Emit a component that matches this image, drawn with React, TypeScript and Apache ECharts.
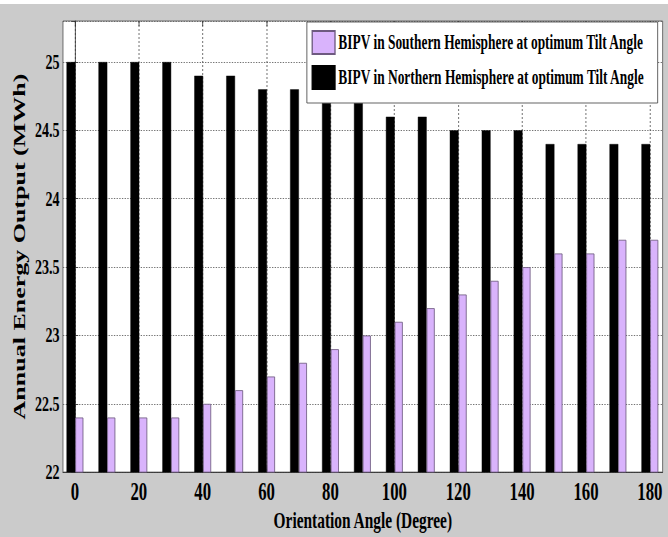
import React, { useEffect, useRef } from "react";
import * as echarts from "echarts";

const angles = [0, 10, 20, 30, 40, 50, 60, 70, 80, 90, 100, 110, 120, 130, 140, 150, 160, 170, 180];
const northern = [25, 25, 25, 25, 24.9, 24.9, 24.8, 24.8, 24.7, 24.7, 24.6, 24.6, 24.5, 24.5, 24.5, 24.4, 24.4, 24.4, 24.4];
const southern = [22.4, 22.4, 22.4, 22.4, 22.5, 22.6, 22.7, 22.8, 22.9, 23.0, 23.1, 23.2, 23.3, 23.4, 23.5, 23.6, 23.6, 23.7, 23.7];
const xTicks = [0, 20, 40, 60, 80, 100, 120, 140, 160, 180];
const southName = "BIPV in Southern Hemisphere at optimum Tilt Angle";
const northName = "BIPV in Northern Hemisphere at optimum Tilt Angle";
const xTitle = "Orientation Angle (Degree)";
const yTitle = "Annual Energy Output (MWh)";

// the reference figure is horizontally squeezed; reproduce by scaling the chart container
const S = 0.67;
const PAGE_W = 668;
const PAGE_H = 537;
const TOP = 4;
const W = PAGE_W / S;
const H = PAGE_H - TOP;
const FONT = '"Liberation Serif", "Times New Roman", serif';

export default function App() {
  const ref = useRef<HTMLDivElement | null>(null);
  useEffect(() => {
    if (!ref.current) return;
    const chart = echarts.init(ref.current, undefined, { renderer: "svg" });
    const gridLine = { show: true, lineStyle: { color: "#555", width: 1, type: [2, 2] as any } };
    chart.setOption({
      animation: false,
      backgroundColor: "#cbcbcb",
      textStyle: { fontFamily: FONT },
      grid: {
        left: 94,
        right: 8,
        top: 17,
        bottom: 62,
        show: true,
        backgroundColor: "#ffffff",
        borderColor: "#555",
        borderWidth: 1,
      },
      legend: {
        orient: "vertical",
        left: 458,
        top: 18,
        data: [southName, northName],
        itemWidth: 34,
        itemHeight: 23,
        itemGap: 10,
        padding: [8, 19, 13, 7],
        backgroundColor: "#ffffff",
        borderColor: "#444",
        borderWidth: 1,
        borderRadius: 0,
        icon: "rect",
        textStyle: { fontFamily: FONT, fontWeight: "bold", fontSize: 20, color: "#000" },
      },
      xAxis: [
        {
          type: "value",
          min: -3.75,
          max: 184,
          splitNumber: 9,
          name: xTitle,
          nameLocation: "middle",
          nameGap: 33,
          nameTextStyle: { fontFamily: FONT, fontWeight: "bold", fontSize: 23, color: "#000" },
          axisLine: { show: true, lineStyle: { color: "#333", width: 1 } },
          axisTick: { show: true, inside: true, length: 5, customValues: xTicks, lineStyle: { color: "#333" } },
          axisLabel: {
            customValues: xTicks,
            margin: 7,
            fontFamily: FONT,
            fontWeight: "bold",
            fontSize: 25,
            color: "#000",
          },
          splitLine: gridLine,
        },
        {
          type: "value",
          position: "top",
          min: -3.75,
          max: 184,
          splitNumber: 9,
          axisLine: { show: false },
          axisTick: { show: true, inside: true, length: 5, customValues: xTicks, lineStyle: { color: "#333" } },
          axisLabel: { show: false },
          splitLine: { show: false },
        },
      ],
      yAxis: [
        {
          type: "value",
          min: 22,
          max: 25.3,
          interval: 0.5,
          name: yTitle,
          nameLocation: "middle",
          nameRotate: 90,
          nameGap: 48,
          nameTextStyle: { fontFamily: FONT, fontWeight: "bold", fontSize: 26, color: "#000" },
          axisLine: { show: true, lineStyle: { color: "#333", width: 1 } },
          axisTick: { show: true, inside: true, length: 5, lineStyle: { color: "#333" } },
          axisLabel: {
            showMaxLabel: false,
            margin: 5,
            fontFamily: FONT,
            fontWeight: "bold",
            fontSize: 21,
            color: "#000",
          },
          splitLine: gridLine,
        },
        {
          type: "value",
          position: "right",
          min: 22,
          max: 25.3,
          interval: 0.5,
          axisLine: { show: false },
          axisTick: { show: true, inside: true, length: 5, lineStyle: { color: "#333" } },
          axisLabel: { show: false },
          splitLine: { show: false },
        },
      ],
      series: [
        {
          name: northName,
          type: "bar",
          xAxisIndex: 0,
          yAxisIndex: 0,
          barWidth: 13,
          barGap: "0%",
          itemStyle: { color: "#000000", borderColor: "#000000", borderWidth: 0.5 },
          data: angles.map((a, i) => [a, northern[i]]),
        },
        {
          name: southName,
          type: "bar",
          xAxisIndex: 0,
          yAxisIndex: 0,
          barWidth: 12,
          barGap: "0%",
          itemStyle: { color: "#d9b3fc", borderColor: "#6e5a80", borderWidth: 1 },
          data: angles.map((a, i) => [a, southern[i]]),
        },
      ],
    });
    return () => chart.dispose();
  }, []);

  return (
    <div
      style={{
        position: "absolute",
        left: 0,
        top: 0,
        width: PAGE_W,
        height: PAGE_H,
        overflow: "hidden",
        background: "#ffffff",
      }}
    >
      <div
        ref={ref}
        style={{
          position: "absolute",
          left: 0,
          top: TOP,
          width: W,
          height: H,
          transform: `scaleX(${S})`,
          transformOrigin: "0 0",
        }}
      />
    </div>
  );
}
